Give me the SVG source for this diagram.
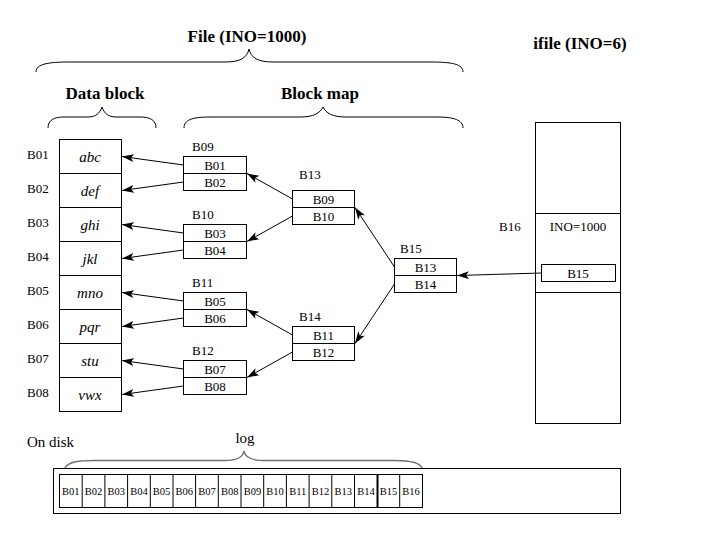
<svg xmlns="http://www.w3.org/2000/svg" width="720" height="540" viewBox="0 0 720 540">
<defs>
<style>
.title{font-size:17px;font-weight:bold;text-anchor:middle}
.lbl{font-size:13px}
.mid{text-anchor:middle}
.it{font-size:15px;font-style:italic;text-anchor:middle}
.cell{font-size:10.5px;text-anchor:middle}
.box{fill:#fff;stroke:#000;stroke-width:1}
.ln{stroke:#000;stroke-width:1;fill:none}
.brace{fill:none;stroke:#000;stroke-width:1}
.arrow{stroke:#000;stroke-width:1;fill:none;marker-end:url(#ah)}
</style>
<marker id="ah" viewBox="0 0 12 8" refX="12" refY="4" markerWidth="12" markerHeight="8" markerUnits="userSpaceOnUse" orient="auto">
<path d="M0,0 L12,4 L0,8 L3,4 Z" fill="#000"/>
</marker>
</defs>
<rect width="720" height="540" fill="#fff"/>
<g font-family="Liberation Serif" fill="#000">

<g id="braces">
<text class="title" x="247" y="42">File (INO=1000)</text>
<path class="brace" d="M36,72 C36,64 48,62 70,62 L225,62 C240,62 247,58 249,49 C251,58 258,62 273,62 L430,62 C452,62 463,64 463,72"/>
<text class="title" x="105" y="99">Data block</text>
<path class="brace" d="M48,128 C48,120 54,117 64,117 L88,117 C96,117 100,113 102,107 C104,113 108,117 116,117 L140,117 C150,117 156,120 156,128"/>
<text class="title" x="320" y="99">Block map</text>
<path class="brace" d="M184,128 C184,120 192,117 210,117 L300,117 C314,117 320,113 323,107 C326,113 332,117 346,117 L437,117 C454,117 463,120 463,128"/>
<text class="title" x="580" y="49">ifile (INO=6)</text>
</g>

<g id="datablock">
<rect class="box" x="59.5" y="139.5" width="62" height="272"/>
<path class="ln" d="M59.5,173.5H121.5M59.5,207.5H121.5M59.5,241.5H121.5M59.5,275.5H121.5M59.5,309.5H121.5M59.5,343.5H121.5M59.5,377.5H121.5"/>
<text class="lbl" x="27" y="159">B01</text>
<text class="lbl" x="27" y="193">B02</text>
<text class="lbl" x="27" y="227">B03</text>
<text class="lbl" x="27" y="261">B04</text>
<text class="lbl" x="27" y="295">B05</text>
<text class="lbl" x="27" y="329">B06</text>
<text class="lbl" x="27" y="363">B07</text>
<text class="lbl" x="27" y="397">B08</text>
<text class="it" x="90" y="161.5">abc</text>
<text class="it" x="90" y="195.5">def</text>
<text class="it" x="90" y="229.5">ghi</text>
<text class="it" x="90" y="263.5">jkl</text>
<text class="it" x="90" y="297.5">mno</text>
<text class="it" x="90" y="331.5">pqr</text>
<text class="it" x="90" y="365.5">stu</text>
<text class="it" x="90" y="399.5">vwx</text>
</g>

<g id="B09">
<text class="lbl" x="192" y="151">B09</text>
<rect class="box" x="183.5" y="156.5" width="63" height="34"/>
<path class="ln" d="M183.5,173.5H246.5"/>
<text class="lbl mid" x="215" y="170">B01</text>
<text class="lbl mid" x="215" y="187">B02</text>
</g>
<g id="B10">
<text class="lbl" x="192" y="219">B10</text>
<rect class="box" x="183.5" y="224.5" width="63" height="34"/>
<path class="ln" d="M183.5,241.5H246.5"/>
<text class="lbl mid" x="215" y="238">B03</text>
<text class="lbl mid" x="215" y="255">B04</text>
</g>
<g id="B11">
<text class="lbl" x="192" y="287">B11</text>
<rect class="box" x="183.5" y="292.5" width="63" height="34"/>
<path class="ln" d="M183.5,309.5H246.5"/>
<text class="lbl mid" x="215" y="306">B05</text>
<text class="lbl mid" x="215" y="323">B06</text>
</g>
<g id="B12">
<text class="lbl" x="192" y="355">B12</text>
<rect class="box" x="183.5" y="360.5" width="63" height="34"/>
<path class="ln" d="M183.5,377.5H246.5"/>
<text class="lbl mid" x="215" y="374">B07</text>
<text class="lbl mid" x="215" y="391">B08</text>
</g>
<g id="B13">
<text class="lbl" x="299" y="179">B13</text>
<rect class="box" x="292.5" y="190.5" width="62" height="34"/>
<path class="ln" d="M292.5,207.5H354.5"/>
<text class="lbl mid" x="323.5" y="204">B09</text>
<text class="lbl mid" x="323.5" y="221">B10</text>
</g>
<g id="B14">
<text class="lbl" x="299" y="321">B14</text>
<rect class="box" x="292.5" y="326.5" width="62" height="34"/>
<path class="ln" d="M292.5,343.5H354.5"/>
<text class="lbl mid" x="323.5" y="340">B11</text>
<text class="lbl mid" x="323.5" y="357">B12</text>
</g>
<g id="B15">
<text class="lbl" x="400" y="253">B15</text>
<rect class="box" x="394.5" y="258.5" width="62" height="34"/>
<path class="ln" d="M394.5,275.5H456.5"/>
<text class="lbl mid" x="425.5" y="272">B13</text>
<text class="lbl mid" x="425.5" y="289">B14</text>
</g>
<g id="ifile">
<rect class="box" x="535.5" y="122.5" width="85" height="301"/>
<path class="ln" d="M535.5,213.5H620.5M535.5,292.5H620.5"/>
<text class="lbl" x="499" y="231">B16</text>
<text class="lbl mid" x="578" y="231">INO=1000</text>
<rect class="box" x="541.5" y="264.5" width="74" height="17"/>
<text class="lbl mid" x="578" y="277.5">B15</text>
</g>

<g id="connectors">
<line class="arrow" x1="183.5" y1="165" x2="122" y2="156.5"/>
<line class="arrow" x1="183.5" y1="182" x2="122" y2="190.5"/>
<line class="arrow" x1="183.5" y1="233" x2="122" y2="224.5"/>
<line class="arrow" x1="183.5" y1="250" x2="122" y2="258.5"/>
<line class="arrow" x1="183.5" y1="301" x2="122" y2="292.5"/>
<line class="arrow" x1="183.5" y1="318" x2="122" y2="326.5"/>
<line class="arrow" x1="183.5" y1="369" x2="122" y2="360.5"/>
<line class="arrow" x1="183.5" y1="386" x2="122" y2="394.5"/>
<line class="arrow" x1="292.5" y1="199" x2="247" y2="173.5"/>
<line class="arrow" x1="292.5" y1="216" x2="247" y2="241.5"/>
<line class="arrow" x1="292.5" y1="335" x2="247" y2="309.5"/>
<line class="arrow" x1="292.5" y1="352" x2="247" y2="377.5"/>
<line class="arrow" x1="394.5" y1="267" x2="355" y2="207.5"/>
<line class="arrow" x1="394.5" y1="284" x2="355" y2="343.5"/>
<line class="arrow" x1="541.5" y1="273" x2="457" y2="275.5"/>
</g>

<g id="disk">
<text x="27" y="447" font-size="15">On disk</text>
<text x="245" y="443" font-size="15" text-anchor="middle">log</text>
<path d="M65,468 C68,462 78,460.5 95,460.5 L225,460.5 C238,460.5 243,457 244,451 C245,457 250,460.5 263,460.5 L395,460.5 C410,460.5 420,462 422,468" fill="none" stroke="#707070" stroke-width="1.5"/>
<rect class="box" x="53.5" y="468.5" width="567" height="45"/>
<rect class="box" x="59.5" y="474.5" width="363" height="33"/>
<path class="ln" d="M82.2,474.5V507.5M104.9,474.5V507.5M127.6,474.5V507.5M150.3,474.5V507.5M173,474.5V507.5M195.6,474.5V507.5M218.3,474.5V507.5M241,474.5V507.5M263.7,474.5V507.5M286.4,474.5V507.5M309.1,474.5V507.5M331.8,474.5V507.5M354.5,474.5V507.5M399.7,474.5V507.5"/>
<path d="M377.5,474.5V507.5" stroke="#000" stroke-width="2"/>
<text class="cell" x="70.8" y="495">B01</text>
<text class="cell" x="93.5" y="495">B02</text>
<text class="cell" x="116.2" y="495">B03</text>
<text class="cell" x="139" y="495">B04</text>
<text class="cell" x="161.6" y="495">B05</text>
<text class="cell" x="184.3" y="495">B06</text>
<text class="cell" x="207" y="495">B07</text>
<text class="cell" x="229.7" y="495">B08</text>
<text class="cell" x="252.4" y="495">B09</text>
<text class="cell" x="275" y="495">B10</text>
<text class="cell" x="297.8" y="495">B11</text>
<text class="cell" x="320.5" y="495">B12</text>
<text class="cell" x="343.2" y="495">B13</text>
<text class="cell" x="366" y="495">B14</text>
<text class="cell" x="388.6" y="495">B15</text>
<text class="cell" x="411" y="495">B16</text>
</g>
</g>
</svg>
